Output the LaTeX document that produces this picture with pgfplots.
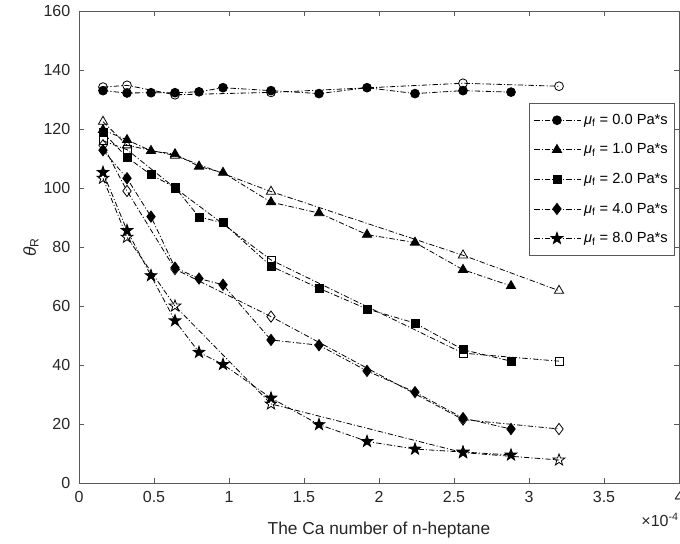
\documentclass[border=0pt]{standalone}
\usepackage{fontspec}
\setmainfont{Liberation Sans}
\usepackage{pgfplots}
\pgfplotsset{compat=1.18}
\usetikzlibrary{calc,plotmarks}

\pgfdeclareplotmark{pent*}{%
  \pgfpathmoveto{\pgfpointpolar{90}{\pgfplotmarksize}}%
  \pgfpathlineto{\pgfpointpolar{126}{0.4\pgfplotmarksize}}%
  \pgfpathlineto{\pgfpointpolar{162}{\pgfplotmarksize}}%
  \pgfpathlineto{\pgfpointpolar{198}{0.4\pgfplotmarksize}}%
  \pgfpathlineto{\pgfpointpolar{234}{\pgfplotmarksize}}%
  \pgfpathlineto{\pgfpointpolar{270}{0.4\pgfplotmarksize}}%
  \pgfpathlineto{\pgfpointpolar{306}{\pgfplotmarksize}}%
  \pgfpathlineto{\pgfpointpolar{342}{0.4\pgfplotmarksize}}%
  \pgfpathlineto{\pgfpointpolar{18}{\pgfplotmarksize}}%
  \pgfpathlineto{\pgfpointpolar{54}{0.4\pgfplotmarksize}}%
  \pgfpathclose
  \pgfusepathqfillstroke
}
\pgfdeclareplotmark{pent}{%
  \pgfpathmoveto{\pgfpointpolar{90}{\pgfplotmarksize}}%
  \pgfpathlineto{\pgfpointpolar{126}{0.4\pgfplotmarksize}}%
  \pgfpathlineto{\pgfpointpolar{162}{\pgfplotmarksize}}%
  \pgfpathlineto{\pgfpointpolar{198}{0.4\pgfplotmarksize}}%
  \pgfpathlineto{\pgfpointpolar{234}{\pgfplotmarksize}}%
  \pgfpathlineto{\pgfpointpolar{270}{0.4\pgfplotmarksize}}%
  \pgfpathlineto{\pgfpointpolar{306}{\pgfplotmarksize}}%
  \pgfpathlineto{\pgfpointpolar{342}{0.4\pgfplotmarksize}}%
  \pgfpathlineto{\pgfpointpolar{18}{\pgfplotmarksize}}%
  \pgfpathlineto{\pgfpointpolar{54}{0.4\pgfplotmarksize}}%
  \pgfpathclose
  \pgfusepathqstroke
}

\pgfplotsset{
  ser/.style={black, line width=0.6pt, dash pattern=on 4pt off 1.6pt on 0.8pt off 1.6pt, mark options={solid, fill=black}},
  hol/.style={black, line width=0.6pt, dash pattern=on 4pt off 1.6pt on 0.8pt off 1.6pt, mark options={solid}, forget plot},
}

\begin{document}
\begin{tikzpicture}
\begin{axis}[name=ax, scale only axis, width=450pt, height=354pt,
  xmin=0, xmax=4, ymin=0, ymax=160,
  xtick={0,0.5,1,1.5,2,2.5,3,3.5,4},
  xticklabels={0,0.5,1,1.5,2,2.5,3,3.5,4},
  ytick={0,20,40,60,80,100,120,140,160},
  tick align=inside, major tick length=4pt,
  axis line style={gray!70!black, line width=0.6pt},
  tick style={gray!70!black, line width=0.6pt},
  ticklabel style={font=\fontsize{12}{14}\selectfont, text=black!85},
  /pgf/number format/assume math mode=true,
  yticklabel style={xshift=-3pt},
  xticklabel style={yshift=-3pt},
  xlabel={The Ca number of n-heptane},
  xlabel style={at={(axis description cs:0.5,-0.0996)}, anchor=center, font=\fontsize{13}{15}\selectfont, text=black!85},
  ylabel={\textit{θ}\textsubscript{R}},
  ylabel style={at={(axis description cs:-0.08,0.5)}, anchor=center, font=\fontsize{13}{15}\selectfont, text=black!85},
  legend style={at={(rel axis cs:0.993,0.805)}, anchor=north east, draw=gray!70!black, line width=0.6pt,
    font=\fontsize{11}{13}\selectfont, row sep=9pt, inner ysep=6pt, inner xsep=3pt},
  legend cell align=left,
  legend image code/.code={\draw[mark repeat=2,mark phase=2] plot coordinates {(0pt,0pt) (17pt,0pt) (35pt,0pt)};},
  clip=false,
]
% mu = 0.0
\addplot[ser, mark=*, mark size=3.3pt] coordinates {
(0.16,133.0) (0.32,132.2) (0.48,132.3) (0.64,132.3) (0.80,132.6) (0.96,134.0)
(1.28,133.0) (1.60,132.0) (1.92,134.0) (2.24,132.0) (2.56,133.0) (2.88,132.5)};
\addlegendentry{\textit{μ}\textsubscript{f} = 0.0 Pa*s}
% mu = 1.0
\addplot[ser, mark=triangle*, mark size=4pt] coordinates {
(0.16,119.7) (0.32,116.3) (0.48,112.6) (0.64,111.5) (0.80,107.3) (0.96,105.2)
(1.28,95.2) (1.60,91.5) (1.92,84.2) (2.24,81.5) (2.56,72.3) (2.88,66.8)};
\addlegendentry{\textit{μ}\textsubscript{f} = 1.0 Pa*s}
% mu = 2.0
\addplot[ser, mark=square*, mark size=3pt] coordinates {
(0.16,118.8) (0.32,110.4) (0.48,104.5) (0.64,100.2) (0.80,90.2) (0.96,88.2)
(1.28,73.5) (1.60,66.0) (1.92,59.0) (2.24,54.2) (2.56,45.2) (2.88,41.3)};
\addlegendentry{\textit{μ}\textsubscript{f} = 2.0 Pa*s}
% mu = 4.0
\addplot[ser, mark=diamond*, mark size=4.2pt] coordinates {
(0.16,112.8) (0.32,103.3) (0.48,90.3) (0.64,73.0) (0.80,69.3) (0.96,67.2)
(1.28,48.5) (1.60,46.7) (1.92,38.0) (2.24,30.8) (2.56,22.0) (2.88,18.3)};
\addlegendentry{\textit{μ}\textsubscript{f} = 4.0 Pa*s}
% mu = 8.0
\addplot[ser, mark=pent*, mark size=4.6pt] coordinates {
(0.16,105.3) (0.32,85.6) (0.48,70.3) (0.64,55.0) (0.80,44.3) (0.96,40.2)
(1.28,28.8) (1.60,19.8) (1.92,14.1) (2.24,11.5) (2.56,10.5) (2.88,9.5)};
\addlegendentry{\textit{μ}\textsubscript{f} = 8.0 Pa*s}
% hollow series
\addplot[hol, mark=o, mark size=3.3pt] coordinates {
(0.16,134.2) (0.32,134.8) (0.64,131.6) (1.28,132.4) (2.56,135.5) (3.20,134.5)};
\addplot[hol, mark=triangle, mark size=4pt] coordinates {
(0.16,122.5) (0.32,114.5) (0.64,111.0) (1.28,98.8) (2.56,77.2) (3.20,65.2)};
\addplot[hol, mark=square, mark size=3pt] coordinates {
(0.16,116.0) (0.32,113.0) (0.64,100.0) (1.28,75.6) (2.56,44.0) (3.20,41.3)};
\addplot[hol, mark=diamond, mark size=4.2pt] coordinates {
(0.16,114.5) (0.32,99.0) (0.64,72.5) (1.28,56.4) (2.56,21.5) (3.20,18.3)};
\addplot[hol, mark=pent, mark size=4.6pt] coordinates {
(0.16,103.3) (0.32,83.3) (0.64,60.0) (1.28,26.8) (2.56,10.3) (3.20,7.8)};
\node[anchor=east, inner sep=0pt, font=\fontsize{12}{14}\selectfont, text=black!85] at (axis description cs:1,-0.078) {×10\textsuperscript{-4}};
\end{axis}
\pgfresetboundingbox
\path ($(ax.south west)+(-59.25pt,-45.75pt)$) rectangle ($(ax.north east)+(0.75pt,8.25pt)$);
\end{tikzpicture}
\end{document}
